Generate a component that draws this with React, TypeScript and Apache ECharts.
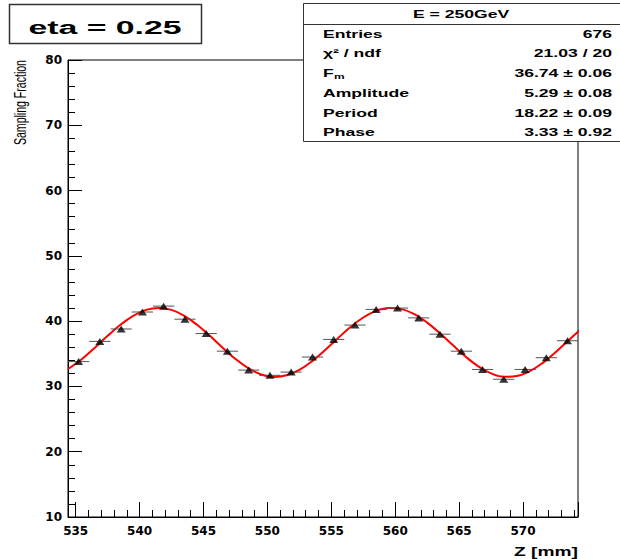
import React, { useEffect, useRef } from "react";
import * as echarts from "echarts";

// Histogram bin centres (Z in mm) and measured sampling fraction
const zCenters = [535.23, 536.89, 538.56, 540.22, 541.88, 543.55, 545.21, 546.87, 548.54, 550.2, 551.86, 553.53, 555.19, 556.85, 558.51, 560.18, 561.84, 563.5, 565.17, 566.83, 568.49, 570.16, 571.82, 573.48];
const fraction = [33.8, 36.9, 38.8, 41.4, 42.3, 40.3, 38.1, 35.4, 32.5, 31.7, 32.2, 34.5, 37.2, 39.4, 41.8, 42.0, 40.5, 38.0, 35.4, 32.6, 31.1, 32.6, 34.4, 37.0];
const binHalfWidth = 0.83;

// Fit curve
const fitZ = [534.4, 535.5, 536.5, 537.5, 538.5, 539.5, 540.5, 541.5, 542.5, 543.5, 544.5, 545.5, 546.5, 547.5, 548.5, 549.5, 550.5, 551.5, 552.5, 553.5, 554.5, 555.5, 556.5, 557.5, 558.5, 559.5, 560.5, 561.5, 562.5, 563.5, 564.5, 565.5, 566.5, 567.5, 568.5, 569.5, 570.5, 571.5, 572.5, 573.5, 574.5];
const fitF = [32.67, 34.21, 35.93, 37.75, 39.44, 40.82, 41.72, 42.03, 41.72, 40.82, 39.44, 37.75, 35.93, 34.21, 32.79, 31.83, 31.45, 31.7, 32.54, 33.87, 35.54, 37.35, 39.09, 40.56, 41.57, 42.01, 41.84, 41.06, 39.78, 38.14, 36.33, 34.57, 33.07, 32.0, 31.48, 31.59, 32.3, 33.54, 35.15, 36.95, 38.72];

const xRange = [534.4, 574.3];
const yRange = [10, 80];

const titleText = "eta = 0.25";
const statsHeader = "E = 250GeV";
const statLabels = ["Entries", "χ² / ndf", "F", "Amplitude", "Period", "Phase"];
const statValues = ["676", "21.03 / 20", "36.74 ± 0.06", "5.29 ± 0.08", "18.22 ± 0.09", "3.33 ± 0.92"];

const BOLD = 'bold 11px "Liberation Sans", Arial, sans-serif';

export default function App() {
  const ref = useRef<HTMLDivElement>(null);
  useEffect(() => {
    document.body.style.margin = "0";
    const chart = echarts.init(ref.current!, undefined, { renderer: "svg" });
    const rowY = [34.5, 53.5, 73.5, 93, 113, 132.5];
    const graphics: any[] = [
      {
        type: "rect",
        shape: { x: 9.5, y: 4.5, width: 192, height: 39 },
        style: { fill: "#fff", stroke: "#333", lineWidth: 1.5 },
        z: 10,
      },
      {
        type: "text",
        x: 105,
        y: 27,
        scaleX: 1.78,
        style: {
          text: titleText,
          font: 'bold 19px "Liberation Sans", Arial, sans-serif',
          align: "center",
          verticalAlign: "middle",
          fill: "#000",
        },
        z: 11,
      },
      {
        type: "text",
        x: 21,
        y: 60,
        rotation: Math.PI / 2,
        scaleX: 0.66,
        style: {
          text: "Sampling Fraction",
          font: '16px "Liberation Sans", Arial, sans-serif',
          align: "right",
          verticalAlign: "middle",
          fill: "#000",
        },
      },
      {
        type: "text",
        x: 578,
        y: 552,
        scaleX: 1.6,
        style: {
          text: "Z [mm]",
          font: 'bold 12px "Liberation Sans", Arial, sans-serif',
          align: "right",
          verticalAlign: "middle",
          fill: "#000",
        },
      },
      {
        type: "rect",
        shape: { x: 303.5, y: 3.5, width: 320, height: 138 },
        style: { fill: "#fff", stroke: "#333", lineWidth: 1 },
        z: 10,
      },
      {
        type: "line",
        shape: { x1: 303.5, y1: 24.5, x2: 620, y2: 24.5 },
        style: { stroke: "#333", lineWidth: 1 },
        z: 11,
      },
      {
        type: "text",
        x: 461,
        y: 14,
        scaleX: 1.6,
        style: { text: statsHeader, font: BOLD, align: "center", verticalAlign: "middle", fill: "#000" },
        z: 11,
      },
    ];
    statLabels.forEach((lab, i) => {
      graphics.push({
        type: "text",
        x: 323,
        y: rowY[i],
        scaleX: 1.6,
        style: { text: lab, font: BOLD, align: "left", verticalAlign: "middle", fill: "#000" },
        z: 11,
      });
      graphics.push({
        type: "text",
        x: 612,
        y: rowY[i],
        scaleX: 1.6,
        style: { text: statValues[i], font: BOLD, align: "right", verticalAlign: "middle", fill: "#000" },
        z: 11,
      });
    });
    // subscript m of F_m
    graphics.push({
      type: "text",
      x: 334,
      y: rowY[2] + 3,
      scaleX: 1.5,
      style: { text: "m", font: 'bold 8px "Liberation Sans", Arial, sans-serif', align: "left", verticalAlign: "middle", fill: "#000" },
      z: 11,
    });

    const axisCommon = {
      axisLine: { show: true, lineStyle: { color: "#000", width: 1 } },
      splitLine: { show: false },
      axisLabel: {
        color: "#000",
        fontFamily: '"DejaVu Sans", sans-serif',
        fontWeight: "bold" as const,
        fontSize: 12,
      },
    };

    chart.setOption({
      animation: false,
      backgroundColor: "#fff",
      grid: {
        left: 68,
        right: 42,
        top: 60,
        bottom: 42,
        show: true,
        borderColor: "#000",
        borderWidth: 1,
        backgroundColor: "transparent",
      },
      xAxis: {
        type: "value",
        min: xRange[0],
        max: xRange[1],
        splitNumber: 8,
        minInterval: 5,
        maxInterval: 5,
        ...axisCommon,
        axisTick: { show: true, inside: true, length: 15, lineStyle: { color: "#000" } },
        minorTick: { show: true, splitNumber: 5, length: 7, lineStyle: { color: "#000" } },
        axisLabel: {
          ...axisCommon.axisLabel,
          margin: 8,
          showMinLabel: false,
          showMaxLabel: false,
          formatter: (v: number) => (Math.abs(v - Math.round(v / 5) * 5) < 1e-6 ? String(Math.round(v)) : ""),
        },
      },
      yAxis: {
        type: "value",
        min: yRange[0],
        max: yRange[1],
        interval: 10,
        ...axisCommon,
        axisTick: { show: true, inside: true, length: 14, lineStyle: { color: "#000" } },
        minorTick: { show: true, splitNumber: 5, length: 7, lineStyle: { color: "#000" } },
        axisLabel: { ...axisCommon.axisLabel, margin: 6 },
      },
      series: [
        {
          type: "line",
          data: fitZ.map((z, i) => [z, fitF[i]]),
          showSymbol: false,
          smooth: 0.4,
          clip: true,
          lineStyle: { color: "#ff0000", width: 2 },
          z: 2,
        },
        {
          type: "custom",
          data: zCenters.map((z, i) => [z, fraction[i]]),
          encode: { x: 0, y: 1 },
          renderItem: (params: any, api: any) => {
            const x = api.value(0);
            const y = api.value(1);
            const p1 = api.coord([x - binHalfWidth, y]);
            const p2 = api.coord([x + binHalfWidth, y]);
            return {
              type: "line",
              shape: { x1: p1[0], y1: p1[1], x2: p2[0], y2: p2[1] },
              style: { stroke: "#555", lineWidth: 1 },
            };
          },
          z: 3,
        },
        {
          type: "scatter",
          data: zCenters.map((z, i) => [z, fraction[i]]),
          symbol: "triangle",
          symbolSize: [9, 7],
          itemStyle: { color: "#000" },
          z: 4,
        },
      ],
      graphic: graphics,
    });
    return () => chart.dispose();
  }, []);
  return <div ref={ref} style={{ width: 620, height: 559 }} />;
}
